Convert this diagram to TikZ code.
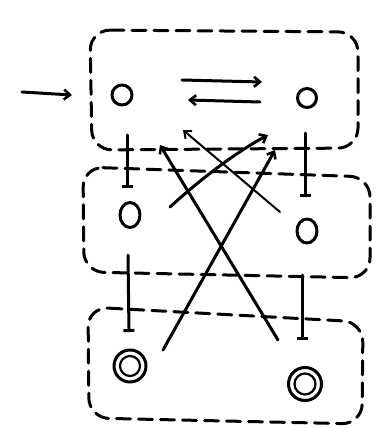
\documentclass[tikz,border=0pt]{standalone}
\usetikzlibrary{arrows.meta,shapes.geometric}
\begin{document}
\begin{tikzpicture}[x=1pt,y=-1pt,
  ink/.style={line width=3pt, line cap=round, line join=round},
  boxline/.style={ink, dash pattern=on 14pt off 8pt, rounded corners=20pt},
  arr/.style={ink, -{Straight Barb[length=6pt,width=10pt,line width=2.6pt]}},
  thinarr/.style={line width=2pt, line cap=round, -{Straight Barb[length=6pt,width=10pt,line width=2pt]}},
  barline/.style={ink, -{Bar[width=11pt,line width=3pt]}}
]
\useasboundingbox (0,0) rectangle (382,428);
% boxes
\draw[boxline] (90,30) -- (358,32) -- (358,148) -- (92,150) -- cycle;
\draw[boxline] (83,167) -- (370,177) -- (370,278) -- (84,272) -- cycle;
\draw[boxline] (88,307) -- (363,322) -- (362,424) -- (89,418) -- cycle;
% states
\node[circle, draw, ink, minimum width=20pt] (tl) at (122,95) {};
\node[circle, draw, ink, minimum width=19pt] (tr) at (307,98) {};
\node[ellipse, draw, ink, minimum width=20pt, minimum height=25pt] (ml) at (130,215) {};
\node[ellipse, draw, ink, minimum width=20pt, minimum height=24pt] (mr) at (307,231) {};
\node[circle, draw, ink, minimum width=32pt] (bl) at (130,366) {};
\node[circle, draw, line width=2.2pt, minimum width=20pt] (bli) at (bl) {};
\node[circle, draw, ink, minimum width=33pt] (br) at (305,384) {};
\node[circle, draw, line width=2.2pt, minimum width=21pt] (bri) at (br) {};
% incoming
\coordinate (in) at (22,92);
\draw[arr] (in) -- ([xshift=-50pt]tl.center);
% top arrows
\coordinate (u1) at (182,80);
\coordinate (u2) at (262,82);
\coordinate (l1) at (260,102);
\coordinate (l2) at (188,100);
\draw[arr] (u1) -- (u2);
\draw[arr] (l1) -- (l2);
% vertical bar lines
\draw[barline] (127,135) -- (127,188);
\draw[barline] (305,133) -- (305,197);
\draw[barline] (128,255) -- (129,332);
\draw[barline] (302,275) -- (302,340);
% crossing arrows
\coordinate (a1s) at (163,350);
\coordinate (a1e) at (275,150);
\coordinate (a2s) at (278,340);
\coordinate (a2e) at (160,145);
\coordinate (a3s) at (170,207);
\coordinate (a3e) at (268,135);
\coordinate (a4s) at (280,212);
\coordinate (a4e) at (183,130);
\draw[arr] (a1s) -- (a1e);
\draw[arr] (a2s) -- (a2e);
\draw[arr] (a3s) .. controls (205,175) and (240,150) .. (a3e);
\draw[thinarr] (a4s) -- (a4e);
\end{tikzpicture}
\end{document}
